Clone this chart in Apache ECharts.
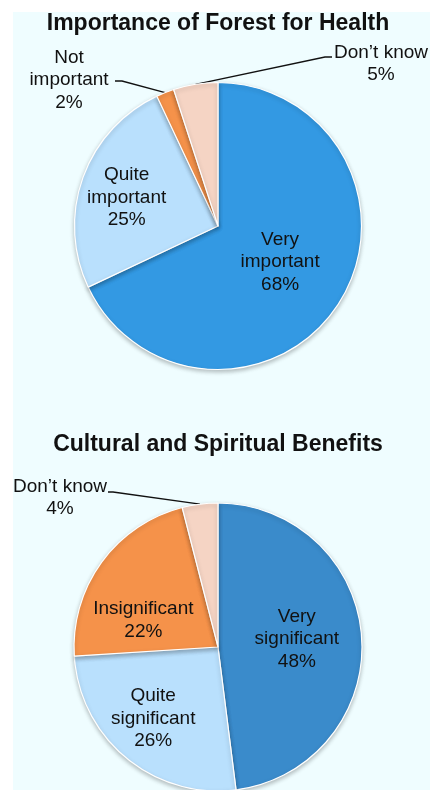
<!DOCTYPE html>
<html>
<head>
<meta charset="utf-8">
<title>Forest survey pies</title>
<script src="https://cdn.jsdelivr.net/npm/echarts@6/dist/echarts.min.js"></script>
<style>
  html, body { margin: 0; padding: 0; background: #ffffff; }
  #chart { width: 430px; height: 790px; }
</style>
</head>
<body>
<div id="chart"></div>
<script>
// Survey answers, clockwise from 12 o'clock
const healthTitle = 'Importance of Forest for Health';
const healthCategories = ['Very\nimportant', 'Quite\nimportant', 'Not\nimportant', 'Don\u2019t know'];
const healthValues = [68, 25, 2, 5];

const cultureTitle = 'Cultural and Spiritual Benefits';
const cultureCategories = ['Very\nsignificant', 'Quite\nsignificant', 'Insignificant', 'Don\u2019t know'];
const cultureValues = [48, 26, 22, 4];

const healthColors = ['#3399e3', '#b9e0fd', '#f5924a', '#f5d4c4'];
const cultureColors = ['#3a8bcb', '#b9e0fd', '#f5924a', '#f5d4c4'];

const FONT = '"Liberation Sans", Arial, sans-serif';

// Which slices carry their label inside the sector
const healthInside = [true, true, false, false];
const cultureInside = [true, true, true, false];

function buildData(cats, vals, colors, inside) {
  return cats.map((name, i) => ({
    name: name,
    value: vals[i],
    itemStyle: { color: colors[i] },
    label: { position: inside[i] ? 'inside' : 'outside' },
    labelLine: { show: !inside[i] }
  }));
}

// Small shifts of inside labels from their default spot: [dx, dy]
const insideNudge = {
  '0-0': [-1, -4],
  '0-1': [-21, -3],
  '1-0': [4, -3.5],
  '1-1': [-17, 13.5],
  '1-2': [-14, 17.5]
};

// Placement of the callout labels: [label centre x, y, elbow x, y, end x, y]
const callouts = {
  '0-2': [69, 80, 122, 81, 115, 81],
  '0-3': [381, 64, 325, 57, 332, 57],
  '1-3': [60, 498, 113, 492, 108, 492]
};

const chart = echarts.init(document.getElementById('chart'), null, { renderer: 'canvas' });

const baseSeries = {
  type: 'pie',
  startAngle: 90,
  clockwise: true,
  avoidLabelOverlap: false,
  silent: true,
  animation: false,
  itemStyle: {
    borderColor: '#ffffff',
    borderWidth: 1.2,
    shadowBlur: 4,
    shadowOffsetY: 2,
    shadowColor: 'rgba(0,0,0,0.25)'
  },
  label: {
    show: true,
    formatter: '{b}\n{c}%',
    color: '#111111',
    fontFamily: FONT,
    fontSize: 19,
    lineHeight: 22.5,
    align: 'center'
  },
  labelLine: {
    show: true,
    smooth: false,
    lineStyle: { color: '#111111', width: 1.3 }
  },
  labelLayout: function (p) {
    const key = p.seriesIndex + '-' + p.dataIndex;
    const n = insideNudge[key];
    if (n) {
      const r = p.labelRect;
      return {
        x: r.x + r.width / 2 + n[0],
        y: r.y + r.height / 2 + n[1],
        align: 'center',
        verticalAlign: 'middle'
      };
    }
    const c = callouts[key];
    if (!c || !p.labelLinePoints) return {};
    return {
      x: c[0],
      y: c[1],
      align: 'center',
      verticalAlign: 'middle',
      labelLinePoints: [p.labelLinePoints[0], [c[2], c[3]], [c[4], c[5]]]
    };
  }
};

chart.setOption({
  backgroundColor: '#ffffff',
  animation: false,
  graphic: [{
    type: 'rect',
    z: -10,
    silent: true,
    shape: { x: 13, y: 12, width: 417, height: 778 },
    style: { fill: '#effdff' }
  }],
  title: [
    {
      text: healthTitle,
      left: 218,
      top: 11,
      padding: 0,
      textAlign: 'center',
      textStyle: { fontFamily: FONT, fontSize: 23, fontWeight: 'bold', color: '#111111', lineHeight: 26 }
    },
    {
      text: cultureTitle,
      left: 218,
      top: 432,
      padding: 0,
      textAlign: 'center',
      textStyle: { fontFamily: FONT, fontSize: 23, fontWeight: 'bold', color: '#111111', lineHeight: 26 }
    }
  ],
  series: [
    Object.assign({}, baseSeries, {
      center: [218, 226],
      radius: 143.5,
      data: buildData(healthCategories, healthValues, healthColors, healthInside)
    }),
    Object.assign({}, baseSeries, {
      center: [218, 647],
      radius: 144,
      data: buildData(cultureCategories, cultureValues, cultureColors, cultureInside)
    })
  ]
});
</script>
</body>
</html>
